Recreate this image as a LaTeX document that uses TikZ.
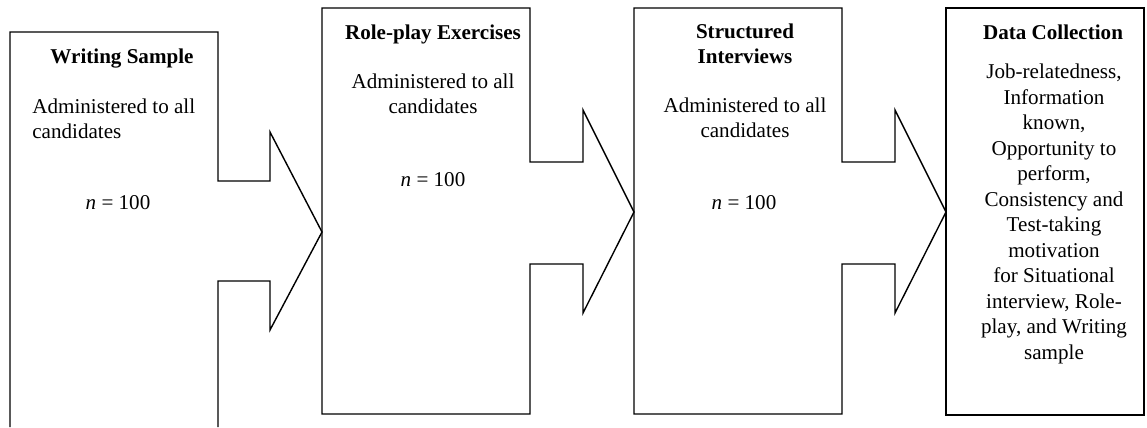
\documentclass[tikz,border=0pt]{standalone}
\usepackage{fontspec}
\setmainfont{Liberation Serif}
\usetikzlibrary{positioning}

\begin{document}
\begin{tikzpicture}[x=0.02cm ,y=-0.02cm ,line join=miter ,
    font=\fontsize{12}{13.8}\selectfont ,
    outline/.style ={draw=black ,line width=0.8pt} ,
    title/.style ={anchor=north ,inner sep=0pt ,align=center ,font=\fontsize{12}{13.8}\selectfont\bfseries} ,
    body/.style ={anchor=north ,inner sep=0pt ,align=center}]
    \useasboundingbox (0,0) rectangle (1147,427);
    % writing sample runs off the bottom
    \draw[outline] (10,427) -- (10,32) -- (218,32) -- (218,181) -- (270,181) -- (270,132)
      -- (322,232) -- (270,330) -- (270,281) -- (218,281) -- (218,427);
    % role-play and interviews share one outline
    \foreach \x in {322,634}
      \draw[outline] (\x+208,162) -- (\x+208,8) -- (\x,8) -- (\x,414) -- (\x+208,414) -- (\x+208,264)
        -- (\x+261,264) -- (\x+261,313) -- (\x+312,212) -- (\x+261,110) -- (\x+261,162) -- cycle;
    \draw[outline ,line width=1.3pt] (946,8) rectangle (1144,415);

    \node[title] (ws) at (122,49) {Writing Sample};
    \node[body ,anchor=north west ,align=left] (ws-txt) at (32,99) {Administered to all\\candidates};
    \node[body] (ws-n) at (118,195) {\textit{n} = 100};

    \node[title] (rp) at (433,25) {Role-play Exercises};
    \node[body] (rp-txt) at (433,74) {Administered to all\\candidates};
    \node[body] (rp-n) at (433,172) {\textit{n} = 100};

    \node[title] (si) at (745,24) {Structured\\Interviews};
    \node[body] (si-txt) at (745,98) {Administered to all\\candidates};
    \node[body] (si-n) at (744,195) {\textit{n} = 100};

    \node[title] (dc) at (1053,25) {Data Collection};
    \node[body ,font=\fontsize{12}{14.5}\selectfont] (dc-txt) at (1054,64) {Job-relatedness,\\Information\\known,\\Opportunity to\\perform,\\Consistency and\\Test-taking\\motivation\\for Situational\\interview, Role-\\play, and Writing\\sample};
\end{tikzpicture}
\end{document}
